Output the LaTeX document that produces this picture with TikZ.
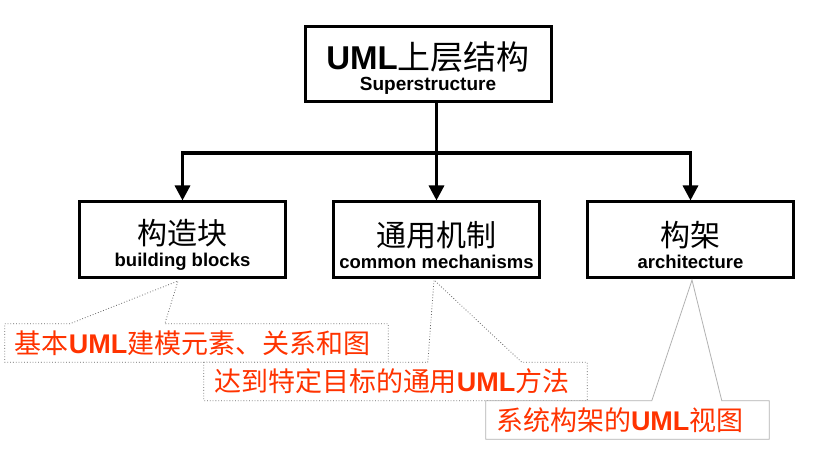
\documentclass[tikz,border=0pt]{standalone}
\usepackage{fontspec}
\setmainfont{Liberation Sans}
\newfontfamily\cjk{Noto Sans CJK SC}
\usetikzlibrary{arrows.meta,positioning}
\definecolor{notered}{RGB}{255,51,0}
\newcommand{\zh}[1]{{\cjk\mdseries #1}}

\begin{document}
\begin{tikzpicture}[
    x=1pt,
    y=-1pt,
    box/.style={draw=black, line width=3pt, fill=white, inner sep=0pt,
      minimum width=206pt, minimum height=76pt, align=center,
      font=\fontsize{18.5}{22}\selectfont\bfseries},
    trunk/.style={draw=black, line width=3.2pt},
    arrowhead/.style={-{Triangle[width=15pt,length=15pt]}},
    note/.style={fill=white, inner xsep=10pt, inner ysep=0pt, minimum height=38pt,
      align=left, text=notered, font=\fontsize{27}{30}\selectfont},
    noteframe/.style={draw=black!60, line width=0.8pt, dotted},
    lastframe/.style={draw=black!30, line width=0.8pt}
  ]
    \fill[white] (0,0) rectangle (831,457);
    \useasboundingbox (0,0) rectangle (831,457);
    % tree of boxes
    \node[box, minimum width=246pt, minimum height=75pt,
      font=\fontsize{19}{21}\selectfont\bfseries] (super) at (428,64.5)
      {{\fontsize{33}{21}\selectfont\rule{0pt}{35pt}UML\zh{上层结构}}\\Superstructure};
    \node[box] (mechs) at (436.5,240)
      {{\fontsize{30}{22}\selectfont\rule{0pt}{35pt}\zh{通用机制}}\\common mechanisms};
    \node[box, left=45pt of mechs] (blocks)
      {{\fontsize{30}{22}\selectfont\rule{0pt}{35pt}\zh{构造块}}\\building blocks};
    \node[box, right=45pt of mechs] (arch)
      {{\fontsize{30}{22}\selectfont\rule{0pt}{35pt}\zh{构架}}\\architecture};
    \coordinate (fork) at (mechs.north |- 0,153);
    \draw[trunk] (super.south -| fork) -- (fork);
    \foreach \n in {blocks,mechs,arch}
      \draw[trunk, arrowhead] (fork) -| (\n.north);
    % callouts
    \coordinate (tipA) at (178,281);
    \coordinate (tipB) at (434,280);
    \coordinate (tipC) at (692,280);
    \node[note, text width=363pt] (noteA) at (196.5,343)
      {\zh{基本}\textbf{UML}\zh{建模元素、关系和图}};
    \draw[noteframe] (noteA.north west) -- ([xshift=65pt]noteA.north west) -- (tipA)
      -- ([xshift=160pt]noteA.north west) -- (noteA.north east)
      -- (noteA.south east) -- (noteA.south west) -- cycle;
    \node[note, text width=363pt] (noteB) at (395.5,381.5)
      {\zh{达到特定目标的通用}\textbf{UML}\zh{方法}};
    \draw[noteframe] (noteB.north west) -- ([xshift=224pt]noteB.north west) -- (tipB)
      -- ([xshift=318pt]noteB.north west) -- (noteB.north east)
      -- (noteB.south east) -- (noteB.south west) -- cycle;
    \node[note, text width=263pt, inner xsep=10pt] (noteC) at (627.5,420)
      {\zh{系统构架的}\textbf{UML}\zh{视图}};
    \draw[lastframe] (noteC.north west) -- ([xshift=166pt]noteC.north west) -- (tipC)
      -- ([xshift=236pt]noteC.north west) -- (noteC.north east)
      -- (noteC.south east) -- (noteC.south west) -- cycle;
  \end{tikzpicture}
\end{document}
